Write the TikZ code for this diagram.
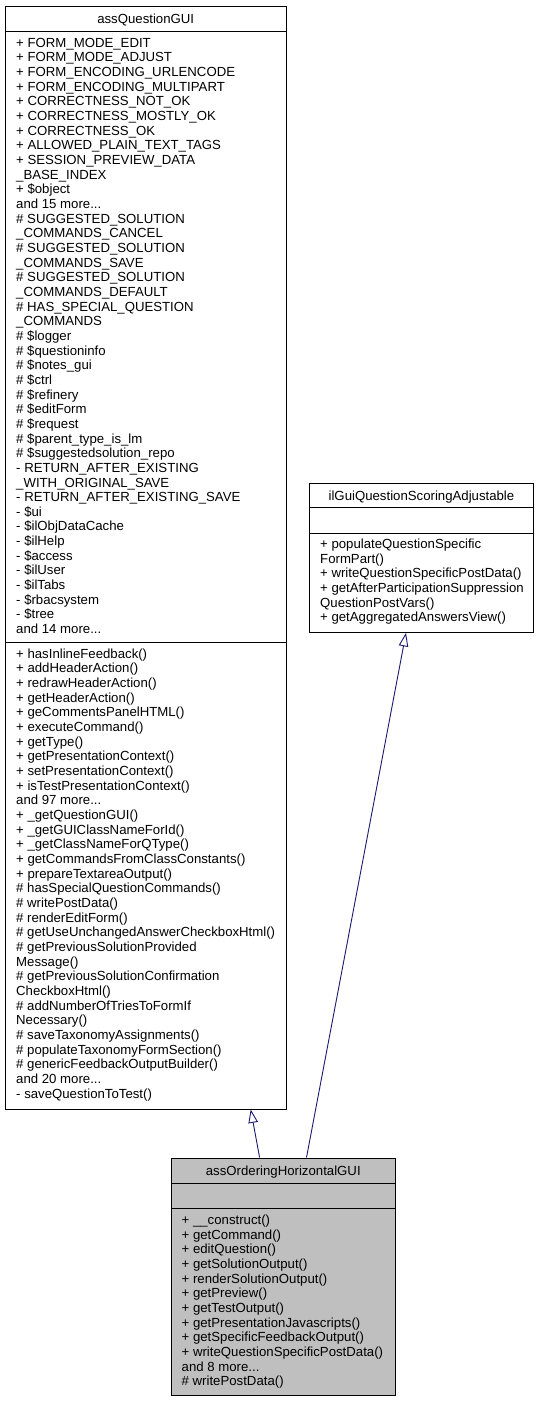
\documentclass[tikz,border=0pt]{standalone}
\usepackage{fontspec}
\setmainfont{Liberation Sans}
\usetikzlibrary{arrows.meta,calc}
\definecolor{edgec}{HTML}{191970}
\definecolor{ordfill}{HTML}{BFBFBF}
\begin{document}
\begin{tikzpicture}[x=1pt,y=-1pt,
  umlbox/.style={draw=black, line width=0.9pt, inner sep=0pt, anchor=north west},
  sepline/.style={draw=black, line width=0.9pt},
  txt/.style={inner sep=0pt, align=left, anchor=base west, font={\fontsize{13.2}{14.66}\selectfont}},
  ttl/.style={inner sep=0pt, anchor=base, font={\fontsize{13.2}{14.66}\selectfont}},
  inherit/.style={draw=edgec, line width=0.9pt, -{Triangle[open, length=13.5pt, width=9.5pt]}}
]
\useasboundingbox (0,0) rectangle (539,1401);

% ---------------- assQuestionGUI ----------------
\node[umlbox, minimum width=280.5, minimum height=1103] (qgui) at (5,5.5) {};
\draw[sepline] ($(qgui.north west)+(0,26.2)$) -- ($(qgui.north east)+(0,26.2)$);
\draw[sepline] ($(qgui.north west)+(0,637)$) -- ($(qgui.north east)+(0,637)$);
\node[ttl] (qguiT) at ($(qgui.north)+(0,18)$) {assQuestionGUI};
% anchor base = baseline of last line
\node[txt] (qguiA) at (16,{47.2+40*14.66}) {+ FORM\_MODE\_EDIT\\
+ FORM\_MODE\_ADJUST\\
+ FORM\_ENCODING\_URLENCODE\\
+ FORM\_ENCODING\_MULTIPART\\
+ CORRECTNESS\_NOT\_OK\\
+ CORRECTNESS\_MOSTLY\_OK\\
+ CORRECTNESS\_OK\\
+ ALLOWED\_PLAIN\_TEXT\_TAGS\\
+ SESSION\_PREVIEW\_DATA\\
\_BASE\_INDEX\\
+ \$object\\
and 15 more...\\
\# SUGGESTED\_SOLUTION\\
\_COMMANDS\_CANCEL\\
\# SUGGESTED\_SOLUTION\\
\_COMMANDS\_SAVE\\
\# SUGGESTED\_SOLUTION\\
\_COMMANDS\_DEFAULT\\
\# HAS\_SPECIAL\_QUESTION\\
\_COMMANDS\\
\# \$logger\\
\# \$questioninfo\\
\# \$notes\_gui\\
\# \$ctrl\\
\# \$refinery\\
\# \$editForm\\
\# \$request\\
\# \$parent\_type\_is\_lm\\
\# \$suggestedsolution\_repo\\
- RETURN\_AFTER\_EXISTING\\
\_WITH\_ORIGINAL\_SAVE\\
- RETURN\_AFTER\_EXISTING\_SAVE\\
- \$ui\\
- \$ilObjDataCache\\
- \$ilHelp\\
- \$access\\
- \$ilUser\\
- \$ilTabs\\
- \$rbacsystem\\
- \$tree\\
and 14 more...};
\node[txt] (qguiM) at (16,{658.3+30*14.66}) {+ hasInlineFeedback()\\
+ addHeaderAction()\\
+ redrawHeaderAction()\\
+ getHeaderAction()\\
+ geCommentsPanelHTML()\\
+ executeCommand()\\
+ getType()\\
+ getPresentationContext()\\
+ setPresentationContext()\\
+ isTestPresentationContext()\\
and 97 more...\\
+ \_getQuestionGUI()\\
+ \_getGUIClassNameForId()\\
+ \_getClassNameForQType()\\
+ getCommandsFromClassConstants()\\
+ prepareTextareaOutput()\\
\# hasSpecialQuestionCommands()\\
\# writePostData()\\
\# renderEditForm()\\
\# getUseUnchangedAnswerCheckboxHtml()\\
\# getPreviousSolutionProvided\\
Message()\\
\# getPreviousSolutionConfirmation\\
CheckboxHtml()\\
\# addNumberOfTriesToFormIf\\
Necessary()\\
\# saveTaxonomyAssignments()\\
\# populateTaxonomyFormSection()\\
\# genericFeedbackOutputBuilder()\\
and 20 more...\\
- saveQuestionToTest()};

% ---------------- ilGuiQuestionScoringAdjustable ----------------
\node[umlbox, minimum width=224, minimum height=148.7] (ilgui) at (309,483.3) {};
\draw[sepline] ($(ilgui.north west)+(0,24.4)$) -- ($(ilgui.north east)+(0,24.4)$);
\draw[sepline] ($(ilgui.north west)+(0,49.7)$) -- ($(ilgui.north east)+(0,49.7)$);
\node[ttl] (ilguiT) at ($(ilgui.north)+(0,17.5)$) {ilGuiQuestionScoringAdjustable};
\node[txt] (ilguiM) at (320,{548.5+5*14.66}) {+ populateQuestionSpecific\\
FormPart()\\
+ writeQuestionSpecificPostData()\\
+ getAfterParticipationSuppression\\
QuestionPostVars()\\
+ getAggregatedAnswersView()};

% ---------------- assOrderingHorizontalGUI ----------------
\node[umlbox, fill=ordfill, minimum width=224.3, minimum height=237.5] (ord) at (170.7,1157.5) {};
\draw[sepline] ($(ord.north west)+(0,25.8)$) -- ($(ord.north east)+(0,25.8)$);
\draw[sepline] ($(ord.north west)+(0,50.8)$) -- ($(ord.north east)+(0,50.8)$);
\node[ttl] (ordT) at ($(ord.north)+(0,18)$) {assOrderingHorizontalGUI};
\node[txt] (ordM) at (181.5,{1224.5+11*14.66}) {+ \_\_construct()\\
+ getCommand()\\
+ editQuestion()\\
+ getSolutionOutput()\\
+ renderSolutionOutput()\\
+ getPreview()\\
+ getTestOutput()\\
+ getPresentationJavascripts()\\
+ getSpecificFeedbackOutput()\\
+ writeQuestionSpecificPostData()\\
and 8 more...\\
\# writePostData()};

% ---------------- inheritance ----------------
\draw[inherit] ($(ord.north west)+(88.9,0)$) -- ($(qgui.south west)+(245.7,0)$);
\draw[inherit] ($(ord.north west)+(135.8,0)$) -- ($(ilgui.south west)+(97,0)$);
\end{tikzpicture}
\end{document}
